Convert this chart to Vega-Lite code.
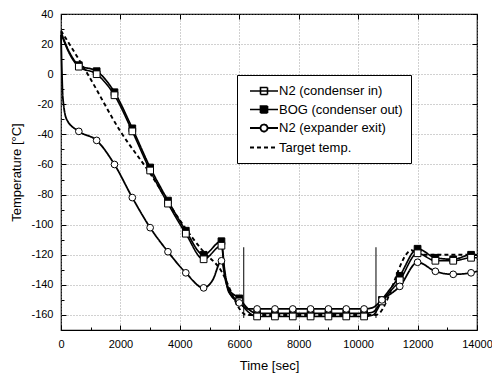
{
  "$schema": "https://vega.github.io/schema/vega-lite/v6.json",
  "width": 416,
  "height": 316,
  "autosize": "none",
  "padding": {"left": 61, "top": 14, "right": 15, "bottom": 44},
  "background": "white",
  "config": {
    "font": "Liberation Sans",
    "view": {"stroke": "black", "strokeWidth": 1.2},
    "axis": {
      "labelFont": "Liberation Sans",
      "labelFontSize": 11,
      "labelColor": "black",
      "labelFlush": false,
      "titleFont": "Liberation Sans",
      "titleFontSize": 13,
      "titleFontWeight": "normal",
      "titleColor": "black",
      "domainColor": "black",
      "tickColor": "black",
      "gridColor": "#8a8a8a",
      "gridDash": [1, 2],
      "gridWidth": 0.8
    }
  },
  "datasets": {
    "series": [
      {"s": "BOG (condenser out)", "t": 0, "temp": 28},
      {"s": "BOG (condenser out)", "t": 300, "temp": 14},
      {"s": "BOG (condenser out)", "t": 600, "temp": 6},
      {"s": "BOG (condenser out)", "t": 1200, "temp": 2},
      {"s": "BOG (condenser out)", "t": 1800, "temp": -12},
      {"s": "BOG (condenser out)", "t": 2400, "temp": -36},
      {"s": "BOG (condenser out)", "t": 3000, "temp": -62},
      {"s": "BOG (condenser out)", "t": 3600, "temp": -84},
      {"s": "BOG (condenser out)", "t": 4200, "temp": -104},
      {"s": "BOG (condenser out)", "t": 4800, "temp": -120},
      {"s": "BOG (condenser out)", "t": 5400, "temp": -111},
      {"s": "BOG (condenser out)", "t": 5500, "temp": -129},
      {"s": "BOG (condenser out)", "t": 5650, "temp": -143},
      {"s": "BOG (condenser out)", "t": 6000, "temp": -149},
      {"s": "BOG (condenser out)", "t": 6300, "temp": -156},
      {"s": "BOG (condenser out)", "t": 6600, "temp": -159},
      {"s": "BOG (condenser out)", "t": 7200, "temp": -159},
      {"s": "BOG (condenser out)", "t": 7800, "temp": -159},
      {"s": "BOG (condenser out)", "t": 8400, "temp": -159},
      {"s": "BOG (condenser out)", "t": 9000, "temp": -159},
      {"s": "BOG (condenser out)", "t": 9600, "temp": -159},
      {"s": "BOG (condenser out)", "t": 10200, "temp": -159},
      {"s": "BOG (condenser out)", "t": 10500, "temp": -158},
      {"s": "BOG (condenser out)", "t": 10800, "temp": -150},
      {"s": "BOG (condenser out)", "t": 11400, "temp": -134},
      {"s": "BOG (condenser out)", "t": 12000, "temp": -116},
      {"s": "BOG (condenser out)", "t": 12600, "temp": -122},
      {"s": "BOG (condenser out)", "t": 13200, "temp": -123},
      {"s": "BOG (condenser out)", "t": 13800, "temp": -120},
      {"s": "BOG (condenser out)", "t": 14000, "temp": -120},

      {"s": "N2 (condenser in)", "t": 0, "temp": 27},
      {"s": "N2 (condenser in)", "t": 300, "temp": 13},
      {"s": "N2 (condenser in)", "t": 600, "temp": 5},
      {"s": "N2 (condenser in)", "t": 1200, "temp": 0},
      {"s": "N2 (condenser in)", "t": 1800, "temp": -14},
      {"s": "N2 (condenser in)", "t": 2400, "temp": -38},
      {"s": "N2 (condenser in)", "t": 3000, "temp": -64},
      {"s": "N2 (condenser in)", "t": 3600, "temp": -86},
      {"s": "N2 (condenser in)", "t": 4200, "temp": -106},
      {"s": "N2 (condenser in)", "t": 4800, "temp": -123},
      {"s": "N2 (condenser in)", "t": 5400, "temp": -114},
      {"s": "N2 (condenser in)", "t": 5500, "temp": -131},
      {"s": "N2 (condenser in)", "t": 5650, "temp": -145},
      {"s": "N2 (condenser in)", "t": 6000, "temp": -151},
      {"s": "N2 (condenser in)", "t": 6300, "temp": -158},
      {"s": "N2 (condenser in)", "t": 6600, "temp": -161},
      {"s": "N2 (condenser in)", "t": 7200, "temp": -161},
      {"s": "N2 (condenser in)", "t": 7800, "temp": -161},
      {"s": "N2 (condenser in)", "t": 8400, "temp": -161},
      {"s": "N2 (condenser in)", "t": 9000, "temp": -161},
      {"s": "N2 (condenser in)", "t": 9600, "temp": -161},
      {"s": "N2 (condenser in)", "t": 10200, "temp": -161},
      {"s": "N2 (condenser in)", "t": 10500, "temp": -160},
      {"s": "N2 (condenser in)", "t": 10800, "temp": -151},
      {"s": "N2 (condenser in)", "t": 11400, "temp": -137},
      {"s": "N2 (condenser in)", "t": 12000, "temp": -119},
      {"s": "N2 (condenser in)", "t": 12600, "temp": -124},
      {"s": "N2 (condenser in)", "t": 13200, "temp": -124},
      {"s": "N2 (condenser in)", "t": 13800, "temp": -122},
      {"s": "N2 (condenser in)", "t": 14000, "temp": -122},

      {"s": "N2 (expander exit)", "t": 0, "temp": 26},
      {"s": "N2 (expander exit)", "t": 30, "temp": 2},
      {"s": "N2 (expander exit)", "t": 60, "temp": -15},
      {"s": "N2 (expander exit)", "t": 190, "temp": -30},
      {"s": "N2 (expander exit)", "t": 600, "temp": -38},
      {"s": "N2 (expander exit)", "t": 1200, "temp": -44},
      {"s": "N2 (expander exit)", "t": 1800, "temp": -60},
      {"s": "N2 (expander exit)", "t": 2400, "temp": -82},
      {"s": "N2 (expander exit)", "t": 3000, "temp": -102},
      {"s": "N2 (expander exit)", "t": 3600, "temp": -118},
      {"s": "N2 (expander exit)", "t": 4200, "temp": -132},
      {"s": "N2 (expander exit)", "t": 4800, "temp": -142},
      {"s": "N2 (expander exit)", "t": 5100, "temp": -137},
      {"s": "N2 (expander exit)", "t": 5400, "temp": -124},
      {"s": "N2 (expander exit)", "t": 5550, "temp": -138},
      {"s": "N2 (expander exit)", "t": 5700, "temp": -146},
      {"s": "N2 (expander exit)", "t": 6000, "temp": -152},
      {"s": "N2 (expander exit)", "t": 6300, "temp": -156},
      {"s": "N2 (expander exit)", "t": 6600, "temp": -156},
      {"s": "N2 (expander exit)", "t": 7200, "temp": -156},
      {"s": "N2 (expander exit)", "t": 7800, "temp": -156},
      {"s": "N2 (expander exit)", "t": 8400, "temp": -156},
      {"s": "N2 (expander exit)", "t": 9000, "temp": -156},
      {"s": "N2 (expander exit)", "t": 9600, "temp": -156},
      {"s": "N2 (expander exit)", "t": 10200, "temp": -156},
      {"s": "N2 (expander exit)", "t": 10500, "temp": -155},
      {"s": "N2 (expander exit)", "t": 10800, "temp": -150},
      {"s": "N2 (expander exit)", "t": 11400, "temp": -141},
      {"s": "N2 (expander exit)", "t": 12000, "temp": -125},
      {"s": "N2 (expander exit)", "t": 12600, "temp": -131},
      {"s": "N2 (expander exit)", "t": 13200, "temp": -133},
      {"s": "N2 (expander exit)", "t": 13800, "temp": -132},
      {"s": "N2 (expander exit)", "t": 14000, "temp": -131},

      {"s": "Target temp.", "t": 0, "temp": 29},
      {"s": "Target temp.", "t": 900, "temp": 0},
      {"s": "Target temp.", "t": 2000, "temp": -38},
      {"s": "Target temp.", "t": 3000, "temp": -66},
      {"s": "Target temp.", "t": 4000, "temp": -97},
      {"s": "Target temp.", "t": 4800, "temp": -118},
      {"s": "Target temp.", "t": 5300, "temp": -128},
      {"s": "Target temp.", "t": 6250, "temp": -160},
      {"s": "Target temp.", "t": 10600, "temp": -160},
      {"s": "Target temp.", "t": 11800, "temp": -117},
      {"s": "Target temp.", "t": 12000, "temp": -120},
      {"s": "Target temp.", "t": 14000, "temp": -120}
    ],
    "events": [
      {"t": 6150, "lo": -162, "hi": -115},
      {"t": 10600, "lo": -162, "hi": -115}
    ]
  },
  "layer": [
    {
      "data": {"name": "events"},
      "mark": {"type": "rule", "color": "black", "strokeWidth": 1},
      "encoding": {
        "x": {"field": "t", "type": "quantitative", "scale": {"domain": [0, 14000], "nice": false},
              "axis": {"orient": "bottom", "values": [1000, 3000, 5000, 7000, 9000, 11000, 13000], "labels": false, "grid": false, "domain": false, "tickSize": -3, "title": null}},
        "y": {"field": "lo", "type": "quantitative", "scale": {"domain": [-170, 40], "nice": false, "zero": false},
              "axis": {"orient": "left", "values": [-170, -150, -130, -110, -90, -70, -50, -30, -10, 10, 30], "labels": false, "grid": false, "domain": false, "tickSize": -3, "title": null}},
        "y2": {"field": "hi"}
      }
    },
    {
      "data": {"name": "series"},
      "mark": {"type": "line", "interpolate": "monotone", "color": "black"},
      "encoding": {
        "x": {"field": "t", "type": "quantitative", "scale": {"domain": [0, 14000], "nice": false},
              "axis": {"orient": "bottom", "values": [0, 2000, 4000, 6000, 8000, 10000, 12000, 14000], "labelExpr": "datum.value + ''", "title": "Time [sec]", "grid": true, "domain": false, "tickSize": -5, "labelPadding": 13, "titlePadding": 10}},
        "y": {"field": "temp", "type": "quantitative", "scale": {"domain": [-170, 40], "nice": false, "zero": false},
              "axis": {"orient": "left", "values": [-160, -140, -120, -100, -80, -60, -40, -20, 0, 20, 40], "labelExpr": "datum.value + ''", "title": "Temperature [°C]", "grid": true, "domain": false, "tickSize": -5, "labelPadding": 13, "titlePadding": 7}},
        "detail": {"field": "s"},
        "strokeDash": {"field": "s", "type": "nominal",
          "scale": {"domain": ["N2 (condenser in)", "BOG (condenser out)", "N2 (expander exit)", "Target temp."], "range": [[1, 0], [1, 0], [1, 0], [4, 3]]},
          "legend": {
            "title": null, "orient": "none", "legendX": 176, "legendY": 61,
            "fillColor": "white", "strokeColor": "black", "padding": 8,
            "labelFont": "Liberation Sans", "labelFontSize": 13, "labelColor": "black",
            "symbolSize": 196, "symbolStrokeWidth": 1.5, "symbolStrokeColor": "black",
            "symbolOffset": 11, "rowPadding": 3.5, "labelOffset": 7,
            "encode": {
              "symbols": {
                "update": {
                  "shape": {"signal": "datum.value === 'Target temp.' ? 'M-2,0H2' : datum.value === 'N2 (expander exit)' ? 'M-2,0H-0.5M0.5,0H2M-0.5,0A0.5,0.5,0,1,1,0.5,0A0.5,0.5,0,1,1,-0.5,0Z' : 'M-2,0H2M-0.5,-0.5H0.5V0.5H-0.5Z'"},
                  "fill": {"signal": "datum.value === 'BOG (condenser out)' ? 'black' : datum.value === 'Target temp.' ? 'transparent' : 'white'"},
                  "stroke": {"value": "black"},
                  "strokeWidth": {"signal": "datum.value === 'Target temp.' ? 1 : 1.5"},
                  "opacity": {"value": 1}
                }
              }
            }
          }
        },
        "strokeWidth": {"field": "s", "type": "nominal",
          "scale": {"domain": ["N2 (condenser in)", "BOG (condenser out)", "N2 (expander exit)", "Target temp."], "range": [1.6, 1.9, 1.7, 1]},
          "legend": null}
      }
    },
    {
      "data": {"name": "series"},
      "transform": [{"filter": "datum.s !== 'Target temp.' && datum.t > 0 && datum.t % 600 === 0"}],
      "mark": {"type": "point", "filled": true, "stroke": "black", "strokeWidth": 1, "size": 45, "opacity": 1},
      "encoding": {
        "x": {"field": "t", "type": "quantitative", "scale": {"domain": [0, 14000], "nice": false},
              "axis": {"orient": "top", "values": [0, 2000, 4000, 6000, 8000, 10000, 12000, 14000], "labels": false, "grid": false, "domain": false, "tickSize": -5, "title": null}},
        "y": {"field": "temp", "type": "quantitative", "scale": {"domain": [-170, 40], "nice": false, "zero": false},
              "axis": {"orient": "right", "values": [-160, -140, -120, -100, -80, -60, -40, -20, 0, 20, 40], "labels": false, "grid": false, "domain": false, "tickSize": -5, "title": null}},
        "shape": {"field": "s", "type": "nominal",
          "scale": {"domain": ["N2 (condenser in)", "BOG (condenser out)", "N2 (expander exit)"], "range": ["square", "square", "circle"]},
          "legend": null},
        "fill": {"field": "s", "type": "nominal",
          "scale": {"domain": ["N2 (condenser in)", "BOG (condenser out)", "N2 (expander exit)"], "range": ["white", "black", "white"]},
          "legend": null}
      }
    }
  ],
  "resolve": {"axis": {"x": "independent", "y": "independent"}}
}
